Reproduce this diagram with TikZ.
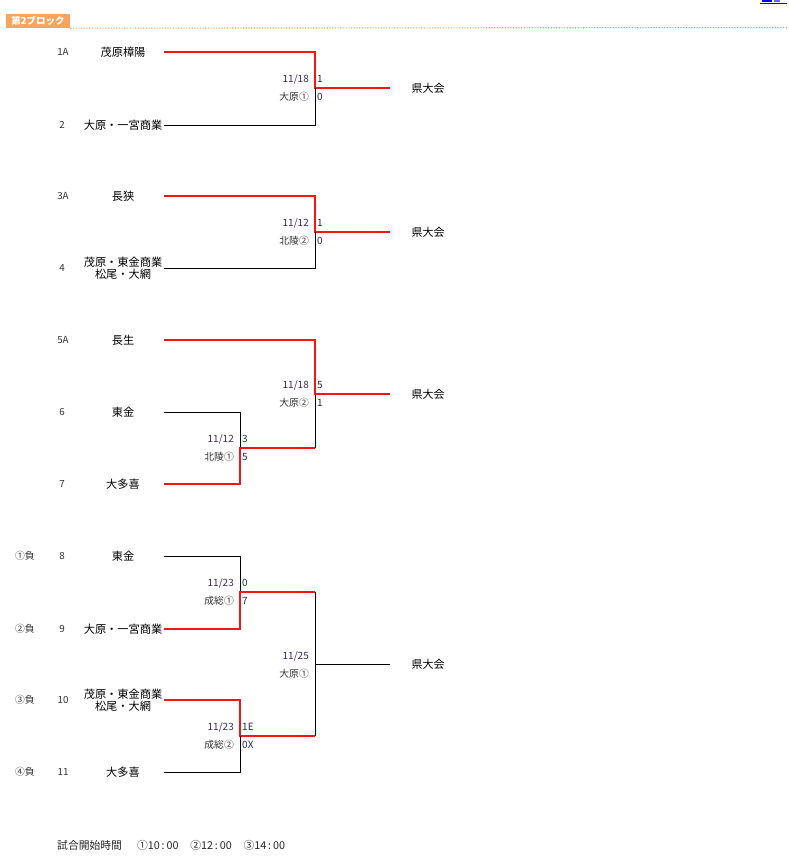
\documentclass[tikz,border=0pt]{standalone}
\usepackage{fontspec}
\setmainfont{Noto Sans CJK JP}
\usetikzlibrary{calc}
\definecolor{hdr}{HTML}{F7A45E}
\definecolor{dotc}{HTML}{F0A030}
\definecolor{datec}{HTML}{3E2C4E}
\definecolor{scorec}{HTML}{1E2A4A}
\definecolor{redl}{HTML}{F51515}
\tikzset{
  team/.style={inner sep=0pt, font=\fontsize{11.2}{12.2}\selectfont, align=center},
  seed/.style={inner sep=0pt, font=\fontsize{9.8}{11}\selectfont, text=black!80},
  date/.style={inner sep=0pt, anchor=east, font=\fontsize{10}{11}\selectfont, text=datec},
  venue/.style={inner sep=0pt, anchor=east, font=\fontsize{9.8}{11}\selectfont, text=black!80},
  score/.style={inner sep=0pt, anchor=west, font=\fontsize{10}{11}\selectfont, text=scorec},
  win/.style={draw=redl, line width=2.9pt},
  lose/.style={draw=black, line width=1pt},
  dest/.style={inner sep=0pt, font=\fontsize{11}{12}\selectfont},
}
\begin{document}
\begin{tikzpicture}[x=1pt,y=-1pt]
\useasboundingbox (0,0) rectangle (788,865);
% top-right clipped link
\fill[blue] (762,0) rectangle (772,2);
\fill[blue!60] (774,0) rectangle (780,2);
\draw[blue, line width=1pt] (760,3) -- (787,3);
% header
\node[fill=hdr, text=white, inner sep=0pt, minimum width=64pt, minimum height=14pt, font=\bfseries\fontsize{9.5}{10}\selectfont] (hdr) at (38,21) {第2ブロック};
\coordinate (dotend) at (788,27.5);
\draw[dotc, line width=1.1pt, dash pattern=on 1.1pt off 1.6pt] (hdr.south east) -- (dotend);

% ---------- Block 1 ----------
\node[seed] (s1) at (63,52) {1A};
\node[team] (t1) at (123,52) {茂原樟陽};
\node[seed] (s2) at (62,125) {2};
\node[team] (t2) at (123,125) {大原・一宮商業};
\coordinate (t1e) at (164,52);
\coordinate (t2e) at (164,125);
\coordinate (m1) at (315,88);
\node[dest] (d1) at (428,88) {県大会};
\draw[win] (t1e) -| (m1) -- (390,88);
\draw[lose] (t2e) -| (m1);
\node[date] (dt1) at (309,79) {11/18};
\node[venue] (v1) at (309,97) {大原①};
\node[score] (sc1a) at (317,79) {1};
\node[score] (sc1b) at (317,97) {0};

% ---------- Block 2 ----------
\node[seed] (s3) at (63,196) {3A};
\node[team] (t3) at (123,196) {長狭};
\node[seed] (s4) at (62,268) {4};
\node[team] (t4) at (123,268) {茂原・東金商業\\松尾・大網};
\coordinate (t3e) at (164,196);
\coordinate (t4e) at (164,268);
\coordinate (m2) at (315,232);
\node[dest] (d2) at (428,232) {県大会};
\draw[win] (t3e) -| (m2) -- (390,232);
\draw[lose] (t4e) -| (m2);
\node[date] (dt2) at (309,223) {11/12};
\node[venue] (v2) at (309,241) {北陵②};
\node[score] (sc2a) at (317,223) {1};
\node[score] (sc2b) at (317,241) {0};

% ---------- Block 3 ----------
\node[seed] (s5) at (63,340) {5A};
\node[team] (t5) at (123,340) {長生};
\node[seed] (s6) at (62,412) {6};
\node[team] (t6) at (123,412) {東金};
\node[seed] (s7) at (62,484) {7};
\node[team] (t7) at (123,484) {大多喜};
\coordinate (t5e) at (164,340);
\coordinate (t6e) at (164,412);
\coordinate (t7e) at (164,484);
\coordinate (m3a) at (240,448);
\coordinate (m3b) at (315,448);
\coordinate (m3) at (315,394);
\node[dest] (d3) at (428,394) {県大会};
\draw[lose] (t6e) -| (m3a);
\draw[win] (t7e) -| (m3a) -- (m3b);
\draw[lose] (m3b) -- (m3);
\draw[win] (t5e) -| (m3) -- (390,394);
\node[date] (dt3) at (309,385) {11/18};
\node[venue] (v3) at (309,403) {大原②};
\node[score] (sc3a) at (317,385) {5};
\node[score] (sc3b) at (317,403) {1};
\node[date] (dt4) at (234,439) {11/12};
\node[venue] (v4) at (234,457) {北陵①};
\node[score] (sc4a) at (242,439) {3};
\node[score] (sc4b) at (242,457) {5};

% ---------- Block 4 ----------
\node[seed] (l8) at (25,556) {①負};
\node[seed] (s8) at (62,556) {8};
\node[team] (t8) at (123,556) {東金};
\node[seed] (l9) at (25,629) {②負};
\node[seed] (s9) at (62,629) {9};
\node[team] (t9) at (123,629) {大原・一宮商業};
\node[seed] (l10) at (25,700) {③負};
\node[seed] (s10) at (63,700) {10};
\node[team] (t10) at (123,700) {茂原・東金商業\\松尾・大網};
\node[seed] (l11) at (25,772) {④負};
\node[seed] (s11) at (63,772) {11};
\node[team] (t11) at (123,772) {大多喜};
\coordinate (t8e) at (164,556);
\coordinate (t9e) at (164,629);
\coordinate (t10e) at (164,700);
\coordinate (t11e) at (164,772);
\coordinate (m4a) at (240,592);
\coordinate (m4a2) at (315,592);
\coordinate (m4b) at (240,736);
\coordinate (m4b2) at (315,736);
\coordinate (m4) at (315,664);
\coordinate (m4e) at (390,664);
\node[dest] (d4) at (428,664) {県大会};
\draw[lose] (t8e) -| (m4a);
\draw[win] (t9e) -| (m4a) -- (m4a2);
\draw[win] (t10e) -| (m4b) -- (m4b2);
\draw[lose] (t11e) -| (m4b);
\draw[lose] (m4a2) -- (m4b2);
\draw[lose] (m4) -- (m4e);
\node[date] (dt5) at (234,583) {11/23};
\node[venue] (v5) at (234,601) {成総①};
\node[score] (sc5a) at (242,583) {0};
\node[score] (sc5b) at (242,601) {7};
\node[date] (dt6) at (234,727) {11/23};
\node[venue] (v6) at (234,745) {成総②};
\node[score] (sc6a) at (242,727) {1E};
\node[score] (sc6b) at (242,745) {0X};
\node[date] (dt7) at (309,656) {11/25};
\node[venue] (v7) at (309,674) {大原①};

% footer
\node[inner sep=0pt, anchor=west, font=\fontsize{10.8}{12}\selectfont, text=black!85] (foot) at (57,845) {試合開始時間\hspace{1.4em}①10{\,}:{\,}00\hspace{1.1em}②12{\,}:{\,}00\hspace{1.1em}③14{\,}:{\,}00};
\end{tikzpicture}
\end{document}
